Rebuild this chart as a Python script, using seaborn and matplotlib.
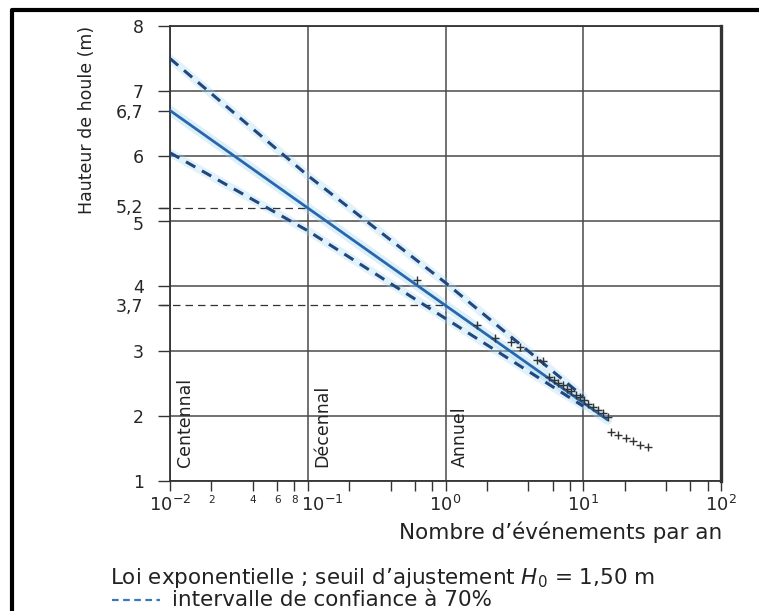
# Hauteur de houle vs nombre d'evenements par an (loi exponentielle)

import pandas as pd
import seaborn as sns
import matplotlib.pyplot as plt
from matplotlib.lines import Line2D
from matplotlib.transforms import ScaledTranslation

sns.set_style('ticks')
plt.rcParams['font.family'] = ['DejaVu Sans']
plt.rcParams['mathtext.fontset'] = 'dejavusans'

# fitted law and 70% confidence interval
fit_n = [0.01, 0.1, 1, 15]
fit_h = [6.7, 5.2, 3.7, 1.94]
ci_n = [0.01, 0.1, 1, 10]
upper_h = [7.5, 5.7, 4.05, 2.3]
lower_h = [6.05, 4.85, 3.5, 2.15]

# observed storms
obs_n = [0.62, 1.7, 2.3, 3.0, 3.5, 4.6, 5.1,
         5.6, 6.1, 6.6, 7.1, 7.6, 8.2, 8.8, 9.4, 10.1, 10.9, 11.8, 12.7, 13.8, 15.0,
         16.0, 18.0, 20.5, 23.0, 26.0, 29.5]
obs_h = [4.09, 3.4, 3.2, 3.14, 3.06, 2.86, 2.84,
         2.60, 2.56, 2.51, 2.47, 2.42, 2.38, 2.33, 2.29, 2.24, 2.19, 2.14, 2.09, 2.04, 1.98,
         1.75, 1.70, 1.66, 1.61, 1.56, 1.52]

# reading lines (decennal / annual)
ref_n = [0.1, 1]
ref_h = [5.2, 3.7]

period_n = [0.01, 0.1, 1]
period_lbl = ['Centennal', 'Décennal', 'Annuel']

y_major = [1, 2, 3, 4, 5, 6, 7, 8]
y_extra = [3.7, 5.2, 6.7]
x_major = [0.01, 0.1, 1, 10, 100]
x_major_lbl = ['$10^{-2}$', '$10^{-1}$', '$10^{0}$', '$10^{1}$', '$10^{2}$']

fit = pd.DataFrame({'n': fit_n, 'h': fit_h})
ci = pd.DataFrame({'n': ci_n + ci_n, 'h': upper_h + lower_h,
                   'b': ['sup'] * 4 + ['inf'] * 4})
obs = pd.DataFrame({'n': obs_n, 'h': obs_h})

fig = plt.figure(figsize=(7.59, 6.11), dpi=100)
ax = fig.add_axes([0.224, 0.2128, 0.726, 0.7446])

grid_c = '#4a4a4a'
for h in y_major:
    ax.axhline(h, color=grid_c, lw=1.1, zorder=1)
for n in x_major:
    ax.axvline(n, color=grid_c, lw=1.1, zorder=1)

# faint halo of the scan
sns.lineplot(data=fit, x='n', y='h', ax=ax, color='#9fd4f2', lw=7, alpha=0.35, zorder=2)
for b in ['sup', 'inf']:
    sns.lineplot(data=ci[ci.b == b], x='n', y='h', ax=ax, color='#9fd4f2',
                 lw=6, alpha=0.3, zorder=2)

sns.lineplot(data=fit, x='n', y='h', ax=ax, color='#2767ad', lw=2, zorder=4)
for b in ['sup', 'inf']:
    sns.lineplot(data=ci[ci.b == b], x='n', y='h', ax=ax, color='#22467e',
                 lw=2.2, dashes=False, linestyle=(0, (3.5, 2.5)), zorder=4)

sns.scatterplot(data=obs, x='n', y='h', ax=ax, marker='+', s=30, color='#333333',
                linewidth=1, zorder=5)

for n, h in zip(ref_n, ref_h):
    ax.plot([0.0085, n], [h, h], color='#333333', lw=0.9, ls=(0, (6, 4)), zorder=3,
            clip_on=False)

for n, lbl in zip(period_n, period_lbl):
    ax.text(n * 1.1, 1.22, lbl, rotation=90, ha='left', va='bottom', fontsize=12.5,
            color='#222222', zorder=6)

ax.set_xscale('log')
ax.set_xlim(0.01, 100)
ax.set_ylim(1, 8)

ax.set_xticks(x_major)
ax.set_xticklabels(x_major_lbl, fontsize=13)
minor = [m * d for d in [0.01, 0.1, 1, 10] for m in [2, 4, 6, 8]]
ax.set_xticks(minor, minor=True)
ax.set_xticklabels(['2', '4', '6', '8'] + [''] * 12, minor=True, fontsize=7.5)
ax.tick_params(axis='x', which='both', direction='out', length=7, width=1,
               color='#333333', pad=3)
# the 10^-1 label sits a little to the right in the original
lbl = ax.get_xticklabels()[1]
lbl.set_transform(lbl.get_transform() + ScaledTranslation(14 / 100, 0, fig.dpi_scale_trans))

yt = sorted(y_major + y_extra)
ax.set_yticks(yt)
ax.set_yticklabels([str(v).replace('.', ',') if v != int(v) else str(int(v))
                    for v in yt], fontsize=12.5)
ax.tick_params(axis='y', direction='out', length=9, width=1, color='#333333', pad=10)
for t, v in zip(ax.get_yticklabels(), yt):
    if v in (5.2, 5):
        dy = 2 if v == 5.2 else -2
        t.set_transform(t.get_transform() + ScaledTranslation(0, dy / 100, fig.dpi_scale_trans))

for s in ['left', 'bottom', 'top']:
    ax.spines[s].set_color('#333333')
    ax.spines[s].set_linewidth(1.3)
ax.spines['right'].set_color('#333333')
ax.spines['right'].set_linewidth(2.4)

ax.set_xlabel('')
ax.set_ylabel('')
fig.text(0.952, 1 - 532 / 611, 'Nombre d\u2019événements par an', ha='right', va='center',
         fontsize=15.5, color='#222222')
fig.text(0.115, 0.957, 'Hauteur de houle (m)', rotation=90, ha='center', va='top',
         fontsize=12.5, color='#222222')

fig.text(110 / 759, 1 - 578 / 611,
         'Loi exponentielle ; seuil d\u2019ajustement $H_0$ = 1,50 m',
         ha='left', va='center', fontsize=15.5, color='#222222')
fig.add_artist(Line2D([112 / 759, 160 / 759], [1 - 600 / 611, 1 - 600 / 611],
                      transform=fig.transFigure, color='#3a78b8', lw=1.6,
                      ls=(0, (3, 2))))
fig.text(172 / 759, 1 - 600 / 611, 'intervalle de confiance à 70%',
         ha='left', va='center', fontsize=15.5, color='#222222')

# outer frame of the page
fig.add_artist(Line2D([12 / 759, 12 / 759, 1.0], [0.0, 1 - 10 / 611, 1 - 10 / 611],
                      transform=fig.transFigure, color='black', lw=3))

fig.savefig('out.png', dpi=100)
